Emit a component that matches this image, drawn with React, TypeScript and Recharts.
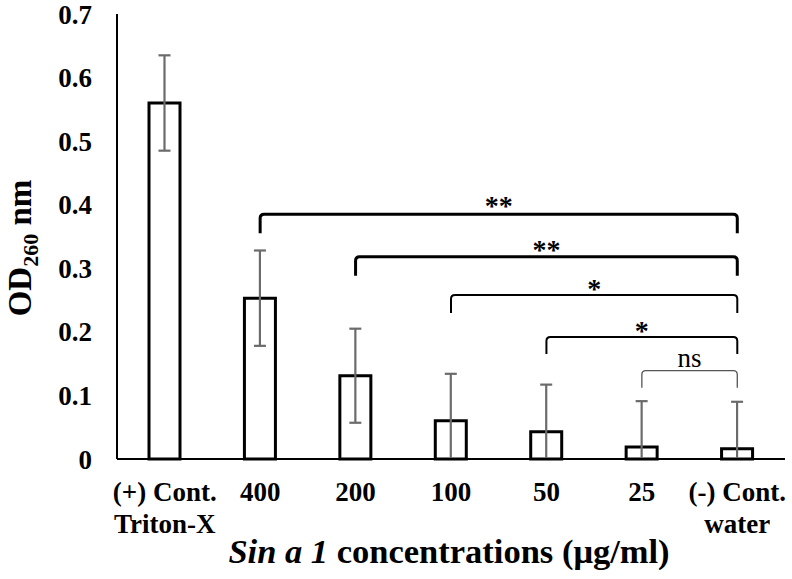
import React from 'react';
import { BarChart, Bar, XAxis, YAxis, ErrorBar, ReferenceLine } from 'recharts';

// ---- data ----
const categories = ['(+) Cont.|Triton-X', '400', '200', '100', '50', '25', '(-) Cont.|water'];
const odValues = [0.56, 0.253, 0.131, 0.06, 0.043, 0.019, 0.016];
const sdValues = [0.075, 0.075, 0.074, 0.074, 0.074, 0.072, 0.074];
const yTicks = [0, 0.1, 0.2, 0.3, 0.4, 0.5, 0.6, 0.7];

const bracketFrom = ['400', '200', '100', '50', '25'];
const bracketTo = ['(-) Cont.|water', '(-) Cont.|water', '(-) Cont.|water', '(-) Cont.|water', '(-) Cont.|water'];
const bracketLevel = [0.385, 0.318, 0.258, 0.192, 0.139];
const bracketLabel = ['**', '**', '*', '*', 'ns'];

// ---- styles ----
const FONT = '"Liberation Serif", "Times New Roman", serif';
const bracketStyles = [
  { stroke: '#000', width: 3, drop: 19, labelDy: 1, size: 28, weight: 'bold' },
  { stroke: '#000', width: 3, drop: 19, labelDy: 2, size: 28, weight: 'bold' },
  { stroke: '#000', width: 2, drop: 18, labelDy: 3, size: 28, weight: 'bold' },
  { stroke: '#000', width: 2, drop: 17, labelDy: 3, size: 28, weight: 'bold' },
  { stroke: '#555', width: 1.3, drop: 17, labelDy: -4, size: 27, weight: 'normal' },
];

const data = categories.map((c, i) => ({
  cat: c,
  od: odValues[i],
  err: [Math.min(sdValues[i], odValues[i]), sdValues[i]],
}));

const XTick = (props: any) => {
  const { x, y, payload } = props;
  const lines = String(payload.value).split('|');
  return (
    <text x={x} y={y} textAnchor="middle" fontFamily={FONT} fontWeight="bold" fontSize={27} fill="#000">
      {lines.map((l, i) => (
        <tspan key={i} x={x} dy={i === 0 ? 42 : 32}>
          {l}
        </tspan>
      ))}
    </text>
  );
};

const makeBracket = (idx: number) => (props: any) => {
  const { x1, y1, x2 } = props;
  const s = bracketStyles[idx];
  const r = 4;
  const left = Math.min(x1, x2);
  const right = Math.max(x1, x2);
  const d = `M${left},${y1 + s.drop} L${left},${y1 + r} Q${left},${y1} ${left + r},${y1} L${right - r},${y1} Q${right},${y1} ${right},${y1 + r} L${right},${y1 + s.drop}`;
  return (
    <g>
      <path d={d} fill="none" stroke={s.stroke} strokeWidth={s.width} />
      <text
        x={(left + right) / 2}
        y={y1 + s.labelDy}
        textAnchor="middle"
        fontFamily={FONT}
        fontWeight={s.weight}
        fontSize={s.size}
        fill="#000"
      >
        {bracketLabel[idx]}
      </text>
    </g>
  );
};

const YTitle = () => (
  <text
    x={0}
    y={0}
    transform="translate(31,248) rotate(-90)"
    textAnchor="middle"
    fontFamily={FONT}
    fontWeight="bold"
    fontSize={33}
    fill="#000"
  >
    OD
    <tspan fontSize={22} dy={7}>
      260
    </tspan>
    <tspan dy={-7}> nm</tspan>
  </text>
);

const XTitle = () => (
  <text x={449} y={563} textAnchor="middle" fontFamily={FONT} fontWeight="bold" fontSize={34.5} fill="#000">
    <tspan fontStyle="italic">Sin a 1</tspan>
    <tspan> concentrations (μg/ml)</tspan>
  </text>
);

export default function App() {
  return (
    <div style={{ position: 'absolute', left: 0, top: 0, background: '#fff' }}>
      <BarChart width={792} height={579} data={data} margin={{ top: 14, right: 7, bottom: 0, left: 0 }}>
        <XAxis
          dataKey="cat"
          height={120}
          interval={0}
          tickLine={false}
          tickSize={0}
          tickMargin={0}
          axisLine={{ stroke: '#000', strokeWidth: 2 }}
          tick={<XTick />}
          label={{ content: () => <XTitle /> }}
        />
        <YAxis
          width={117}
          domain={[0, 0.7]}
          ticks={yTicks}
          interval={0}
          tickLine={false}
          tickSize={0}
          tickMargin={25}
          axisLine={{ stroke: '#000', strokeWidth: 2 }}
          tickFormatter={(v: number) => (v === 0 ? '0' : v.toFixed(1))}
          tick={{ fontFamily: FONT, fontWeight: 'bold', fontSize: 27, fill: '#000' }}
          label={{ content: () => <YTitle /> }}
        />
        <Bar dataKey="od" fill="#fff" stroke="#000" strokeWidth={3} barSize={31} isAnimationActive={false}>
          <ErrorBar dataKey="err" width={6} stroke="#6b6b6b" strokeWidth={2.2} direction="y" />
        </Bar>
        {bracketFrom.map((from, i) => (
          <ReferenceLine
            key={i}
            segment={[
              { x: from, y: bracketLevel[i] },
              { x: bracketTo[i], y: bracketLevel[i] },
            ]}
            stroke="#000"
            shape={makeBracket(i)}
          />
        ))}
      </BarChart>
    </div>
  );
}
